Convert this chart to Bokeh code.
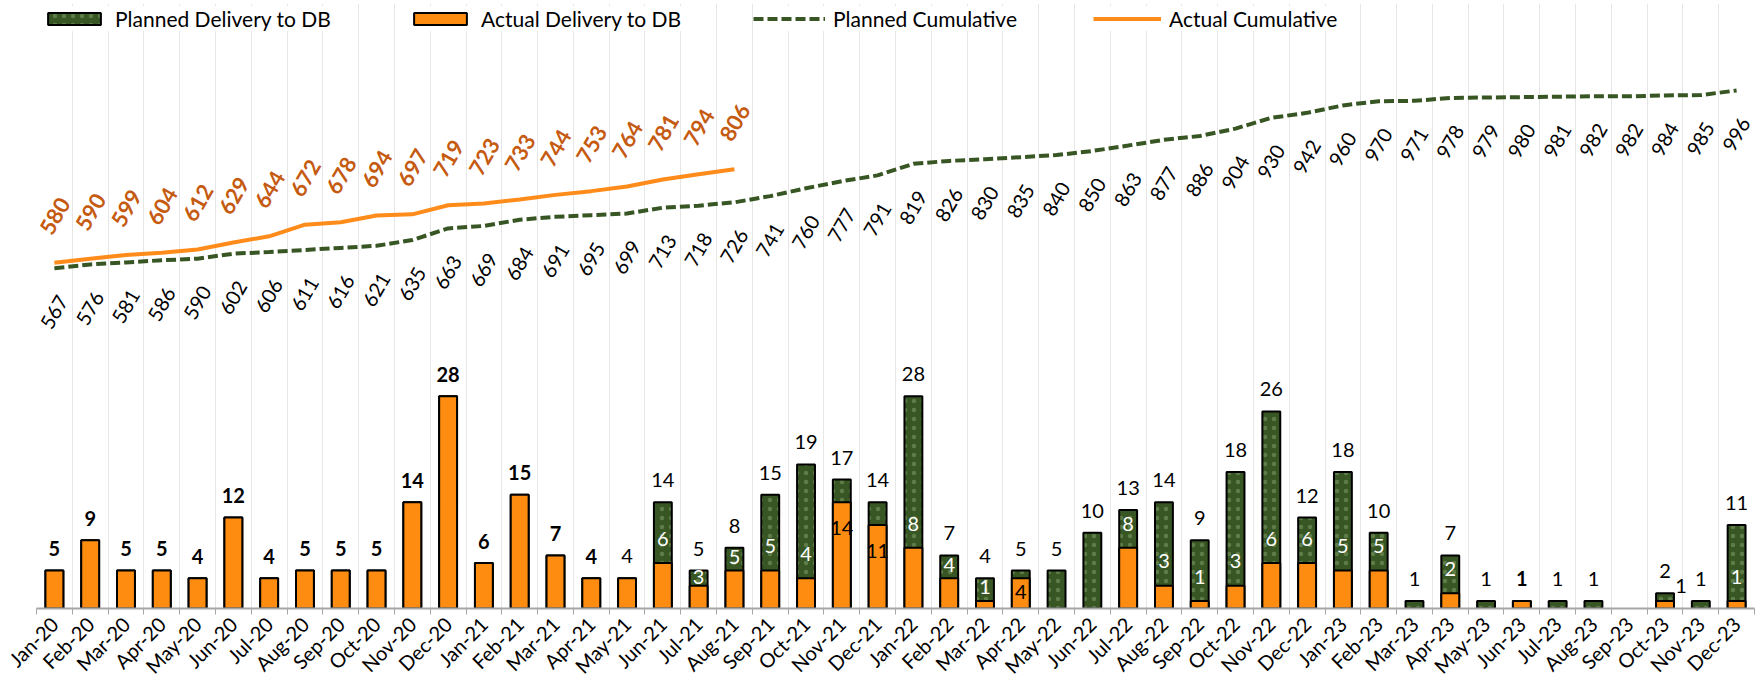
import math
import numpy as np
from bokeh.plotting import figure
from bokeh.models import Range1d, FixedTicker, Legend, LegendItem
from bokeh.core.properties import value
from bokeh.embed import file_html
from bokeh.resources import INLINE

months = ["Jan-20", "Feb-20", "Mar-20", "Apr-20", "May-20", "Jun-20", "Jul-20", "Aug-20", "Sep-20", "Oct-20", "Nov-20", "Dec-20",
          "Jan-21", "Feb-21", "Mar-21", "Apr-21", "May-21", "Jun-21", "Jul-21", "Aug-21", "Sep-21", "Oct-21", "Nov-21", "Dec-21",
          "Jan-22", "Feb-22", "Mar-22", "Apr-22", "May-22", "Jun-22", "Jul-22", "Aug-22", "Sep-22", "Oct-22", "Nov-22", "Dec-22",
          "Jan-23", "Feb-23", "Mar-23", "Apr-23", "May-23", "Jun-23", "Jul-23", "Aug-23", "Sep-23", "Oct-23", "Nov-23", "Dec-23"]

planned = [5, 9, 5, 5, 4, 12, 4, 5, 5, 5, 14, 28,
           6, 15, 7, 4, 4, 14, 5, 8, 15, 19, 17, 14,
           28, 7, 4, 5, 5, 10, 13, 14, 9, 18, 26, 12,
           18, 10, 1, 7, 1, 1, 1, 1, 0, 2, 1, 11]

actual = [5, 9, 5, 5, 4, 12, 4, 5, 5, 5, 14, 28,
          6, 15, 7, 4, 4, 6, 3, 5, 5, 4, 14, 11,
          8, 4, 1, 4, 0, 0, 8, 3, 1, 3, 6, 6,
          5, 5, 0, 2, 0, 1, 0, 0, 0, 1, 0, 1]

planned_cum = [567, 576, 581, 586, 590, 602, 606, 611, 616, 621, 635, 663,
               669, 684, 691, 695, 699, 713, 718, 726, 741, 760, 777, 791,
               819, 826, 830, 835, 840, 850, 863, 877, 886, 904, 930, 942,
               960, 970, 971, 978, 979, 980, 981, 982, 982, 984, 985, 996]

actual_cum = [580, 590, 599, 604, 612, 629, 644, 672, 678, 694, 697, 719,
              723, 733, 744, 753, 764, 781, 794, 806]

GREEN = "#375623"
ORANGE = "#FD8C10"
ORANGE_TXT = "#C55A11"
FONT = value("Lato")

n = len(months)
xs = list(range(1, n + 1))

FH = 605
p = figure(frame_width=1718, frame_height=FH,
           x_range=Range1d(0.5, n + 0.5), y_range=Range1d(0, 79.8),
           output_backend="svg", toolbar_location=None,
           min_border_left=36, min_border_right=7, min_border_top=3, min_border_bottom=6)
p.outline_line_color = None
p.extra_y_ranges = {"cum": Range1d(-254.6, 1206)}

# grid at category boundaries
bounds = [i + 0.5 for i in range(0, n + 1)]
p.xgrid.ticker = FixedTicker(ticks=bounds)
p.xgrid.grid_line_color = "#e6e6e6"
p.xgrid.grid_line_width = 1
p.ygrid.visible = False
p.yaxis.visible = False

ax = p.xaxis[0]
ax.ticker = FixedTicker(ticks=xs, minor_ticks=bounds)
ax.major_label_overrides = {x: m for x, m in zip(xs, months)}
ax.major_tick_line_color = None
ax.major_tick_out = 4
ax.minor_tick_line_color = "#a6a6a6"
ax.minor_tick_out = 6
ax.minor_tick_in = 0
ax.axis_line_color = "#a6a6a6"
ax.axis_line_width = 2
ax.major_label_orientation = math.pi / 4
ax.major_label_text_font = "Lato"
ax.major_label_text_font_size = "20px"
ax.major_label_text_color = "black"
ax.major_label_standoff = 6

# bars
pl_x = [x for x, v in zip(xs, planned) if v > 0]
pl_v = [v for v in planned if v > 0]
ac_x = [x for x, v in zip(xs, actual) if v > 0]
ac_v = [v for v in actual if v > 0]

g_r = p.vbar(x=pl_x, top=pl_v, bottom=0, width=0.5, fill_color=GREEN,
             line_color="black", line_width=2,
             hatch_pattern="dot", hatch_color="#7d9a62", hatch_alpha=0.55, hatch_scale=9, hatch_weight=1)
o_r = p.vbar(x=ac_x, top=ac_v, bottom=0, width=0.5, fill_color=ORANGE,
             line_color="black", line_width=2)

# top labels (planned)
top_x, top_y, top_t, top_style = [], [], [], []
for i, (x, v) in enumerate(zip(xs, planned)):
    if v <= 0:
        continue
    top_x.append(x)
    top_y.append(v)
    top_t.append(str(v))
    top_style.append("bold" if (i < 16 or months[i] == "Jun-23") else "normal")
p.text(x=top_x, y=top_y, text=top_t, text_font=FONT, text_font_size="20px",
       text_font_style=top_style, text_color="black", text_align="center",
       text_baseline="middle", y_offset=-22)

# inner labels (actual) from Jun-21 onward
in_x, in_y, in_t, in_c = [], [], [], []
for i, (x, pv, av) in enumerate(zip(xs, planned, actual)):
    if i < 17 or av <= 0 or av == pv:
        continue
    gap = pv - av
    if av < 2 and gap <= 1:
        in_x.append(x + 0.45); in_y.append(3.0); in_c.append("black")
    elif gap >= 4:
        in_x.append(x); in_y.append(av + 3.2); in_c.append("white")
    elif av >= 10 or gap <= 1:
        in_x.append(x); in_y.append(av - min(3.4, 0.45 * av)); in_c.append("black")
    else:
        in_x.append(x); in_y.append(av + 0.6 * gap); in_c.append("white")
    in_t.append(str(av))
p.text(x=in_x, y=in_y, text=in_t, text_font=FONT, text_font_size="20px",
       text_color=in_c, text_align="center", text_baseline="middle")

# cumulative lines
pc_r = p.line(xs, planned_cum, y_range_name="cum", line_color=GREEN, line_width=4,
              line_dash="10 4")
ac_r = p.line(xs[:len(actual_cum)], actual_cum, y_range_name="cum", line_color="#FF8C1A",
              line_width=4)

ang = math.radians(60)
p.text(x=xs, y=planned_cum, text=[str(v) for v in planned_cum], y_range_name="cum",
       text_font=FONT, text_font_size="20px", text_color="black", angle=ang,
       text_align="center", text_baseline="middle", y_offset=44)
p.text(x=xs[:len(actual_cum)], y=actual_cum, text=[str(v) for v in actual_cum], y_range_name="cum",
       text_font=FONT, text_font_size="22px", text_font_style="bold", text_color=ORANGE_TXT, angle=ang,
       text_align="center", text_baseline="middle", y_offset=-47)

# legends (one per item for placement)
def add_leg(label, r, fx, gw):
    leg = Legend(items=[LegendItem(label=label, renderers=[r])], location=(fx, FH - 28),
                 orientation="horizontal", padding=2, margin=0, border_line_color=None,
                 background_fill_color="white", background_fill_alpha=1.0,
                 label_text_font="Lato", label_text_font_size="21px", label_text_color="black",
                 glyph_width=gw, glyph_height=15, label_standoff=8, label_height=18)
    p.add_layout(leg)

add_leg("Planned Delivery to DB", g_r, 5, 66)
add_leg("Actual Delivery to DB", o_r, 371, 66)
add_leg("Planned Cumulative", pc_r, 717, 72)
add_leg("Actual Cumulative", ac_r, 1057, 68)

open("out.html", "w").write(file_html(p, INLINE))
